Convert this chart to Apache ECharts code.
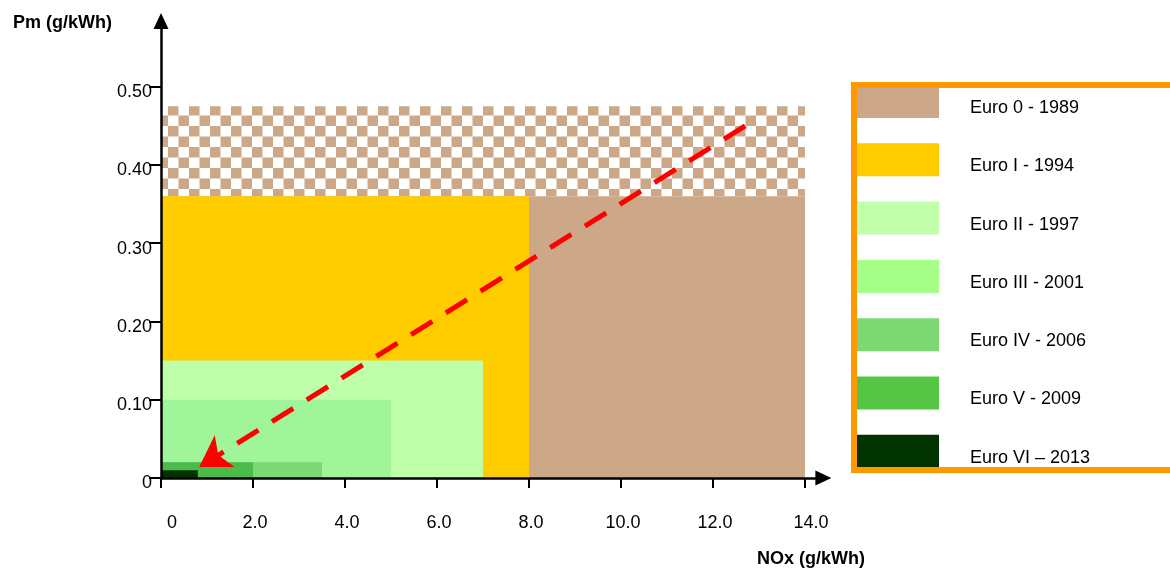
<!DOCTYPE html>
<html>
<head>
<meta charset="utf-8">
<script src="https://cdn.jsdelivr.net/npm/echarts@6/dist/echarts.min.js"></script>
<style>
html,body{margin:0;padding:0;background:#fff;}
#chart{width:1170px;height:570px;}
</style>
</head>
<body>
<div id="chart"></div>
<script>
// ---------------- data ----------------
const stageNames = ['Euro 0 - 1989', 'Euro I - 1994', 'Euro II - 1997', 'Euro III - 2001', 'Euro IV - 2006', 'Euro V - 2009', 'Euro VI \u2013 2013'];
const noxLimits = [14, 8, 7, 5, 3.5, 2, 0.8];          // g/kWh
const pmLimits  = [0.36, 0.36, 0.15, 0.10, 0.02, 0.02, 0.01]; // g/kWh
const euro0Band = [14, 0.475, 0.36];                     // [NOx, PM top, PM bottom] hatched band
const trendFrom = [12.7, 0.45];
const trendTo   = [0.83, 0.014];
const xTicks = [0, 2, 4, 6, 8, 10, 12, 14];
const yTicks = [0, 0.1, 0.2, 0.3, 0.4, 0.5];
const xAxisName = 'NOx (g/kWh)';
const yAxisName = 'Pm (g/kWh)';

// ---------------- style ----------------
const chartColors  = ['#CCA889', '#FFCC00', '#C0FFAA', '#A0F59A', '#7BD873', '#4CBB4C', '#003300'];
const legendColors = ['#CCA889', '#FFCC00', '#C2FFAA', '#A6FF88', '#7BD873', '#55C544', '#003300'];
const FONT = 'Arial, "Liberation Sans", sans-serif';

// checker pattern
const pc = document.createElement('canvas');
pc.width = 21; pc.height = 21;
const g = pc.getContext('2d');
g.fillStyle = '#ffffff'; g.fillRect(0, 0, 21, 21);
g.fillStyle = '#CCA889';
g.fillRect(0, 0, 10.5, 10.5);
g.fillRect(10.5, 10.5, 10.5, 10.5);
const checker = { image: pc, repeat: 'repeat' };

function rectItem(params, api) {
  const p0 = api.coord([0, api.value(2)]);
  const p1 = api.coord([api.value(0), api.value(1)]);
  return {
    type: 'rect',
    shape: { x: p0[0], y: p1[1], width: p1[0] - p0[0], height: p0[1] - p1[1] },
    style: { fill: api.visual('color') }
  };
}
function bandItem(params, api) {
  const p0 = api.coord([0, api.value(2)]);
  const p1 = api.coord([api.value(0), api.value(1)]);
  return {
    type: 'rect',
    shape: { x: p0[0], y: p1[1], width: p1[0] - p0[0], height: p0[1] - p1[1] },
    style: { fill: checker }
  };
}

const series = [{
  type: 'custom', name: 'Euro 0 band', renderItem: bandItem,
  data: [euro0Band], silent: true, z: 1
}];
stageNames.forEach((n, i) => {
  series.push({
    type: 'custom', name: n, renderItem: rectItem,
    itemStyle: { color: chartColors[i] },
    data: [[noxLimits[i], pmLimits[i], 0]], silent: true, z: 2 + i
  });
});
series.push({
  type: 'line', name: 'trend', data: [], silent: true, z: 20,
  markLine: {
    silent: true, z: 40,
    symbol: ['none', 'arrow'],
    symbolSize: [28, 30],
    label: { show: false },
    lineStyle: { color: '#FF0000', width: 5, type: [25, 16], cap: 'butt' },
    data: [[{ coord: trendFrom }, { coord: trendTo }]]
  }
});

// legend swatch: 85x33 filled rect at the top of an 85x46 item box (text centred slightly lower)
const swatchIcon = 'path://M0,0H85V33H0Z M0,45.9L0.1,46';

const chart = echarts.init(document.getElementById('chart'), null, { renderer: 'canvas' });
chart.setOption({
  animation: false,
  backgroundColor: '#ffffff',
  textStyle: { fontFamily: FONT },
  title: {
    text: xAxisName, left: 757, top: 550, padding: 0,
    textStyle: { fontFamily: FONT, fontSize: 18, fontWeight: 'bold', color: '#000' }
  },
  grid: { left: 161, right: 346.6, top: 21, bottom: 92, containLabel: false },
  xAxis: {
    type: 'value', min: 0, max: 14.4, z: 30,
    axisLine: { show: true, onZero: false, symbol: ['none', 'triangle'], symbolSize: [15, 16], lineStyle: { color: '#000', width: 2.5 } },
    axisTick: { show: true, customValues: xTicks, length: 10, lineStyle: { color: '#000', width: 2 } },
    axisLabel: {
      customValues: xTicks, margin: 36, fontSize: 18, color: '#000', fontFamily: FONT,
      formatter: v => v === 0 ? '{z|0}' : (v === 14 ? '{e|14.0}' : '{n|' + v.toFixed(1) + '}'),
      rich: {
        z: { fontSize: 18, fontFamily: FONT, color: '#000', padding: [0, 0, 0, 22] },
        e: { fontSize: 18, fontFamily: FONT, color: '#000', padding: [0, 0, 0, 12] },
        n: { fontSize: 18, fontFamily: FONT, color: '#000', padding: [0, 0, 0, 4] }
      }
    },
    splitLine: { show: false }
  },
  yAxis: {
    type: 'value', min: 0, max: 0.584, z: 30,
    name: yAxisName, nameLocation: 'end', nameGap: -2,
    nameTextStyle: { fontFamily: FONT, fontSize: 18, fontWeight: 'bold', color: '#000', align: 'right', verticalAlign: 'middle', padding: [0, 49, 0, 0] },
    axisLine: { show: true, onZero: false, symbol: ['none', 'triangle'], symbolSize: [15, 16], lineStyle: { color: '#000', width: 2.5 } },
    axisTick: { show: true, customValues: yTicks, length: 12, lineStyle: { color: '#000', width: 2 } },
    axisLabel: {
      customValues: yTicks, margin: 9, fontSize: 18, color: '#000', fontFamily: FONT,
      verticalAlign: 'top', lineHeight: 11,
      formatter: v => v === 0 ? '0' : v.toFixed(2)
    },
    splitLine: { show: false }
  },
  legend: {
    orient: 'vertical', left: 854, top: 85,
    padding: 0,
    icon: swatchIcon, itemWidth: 85, itemHeight: 46, itemGap: 12.3,
    selectedMode: false,
    textStyle: { fontFamily: FONT, fontSize: 18, color: '#000', padding: [0, 0, 0, 26] },
    data: stageNames.map((n, i) => ({ name: n, itemStyle: { color: legendColors[i] } }))
  },
  graphic: [{
    type: 'rect', z: 100, silent: true,
    shape: { x: 854, y: 85, width: 400, height: 385 },
    style: { fill: 'none', stroke: '#FF9900', lineWidth: 6 }
  }],
  series: series
});
</script>
</body>
</html>
